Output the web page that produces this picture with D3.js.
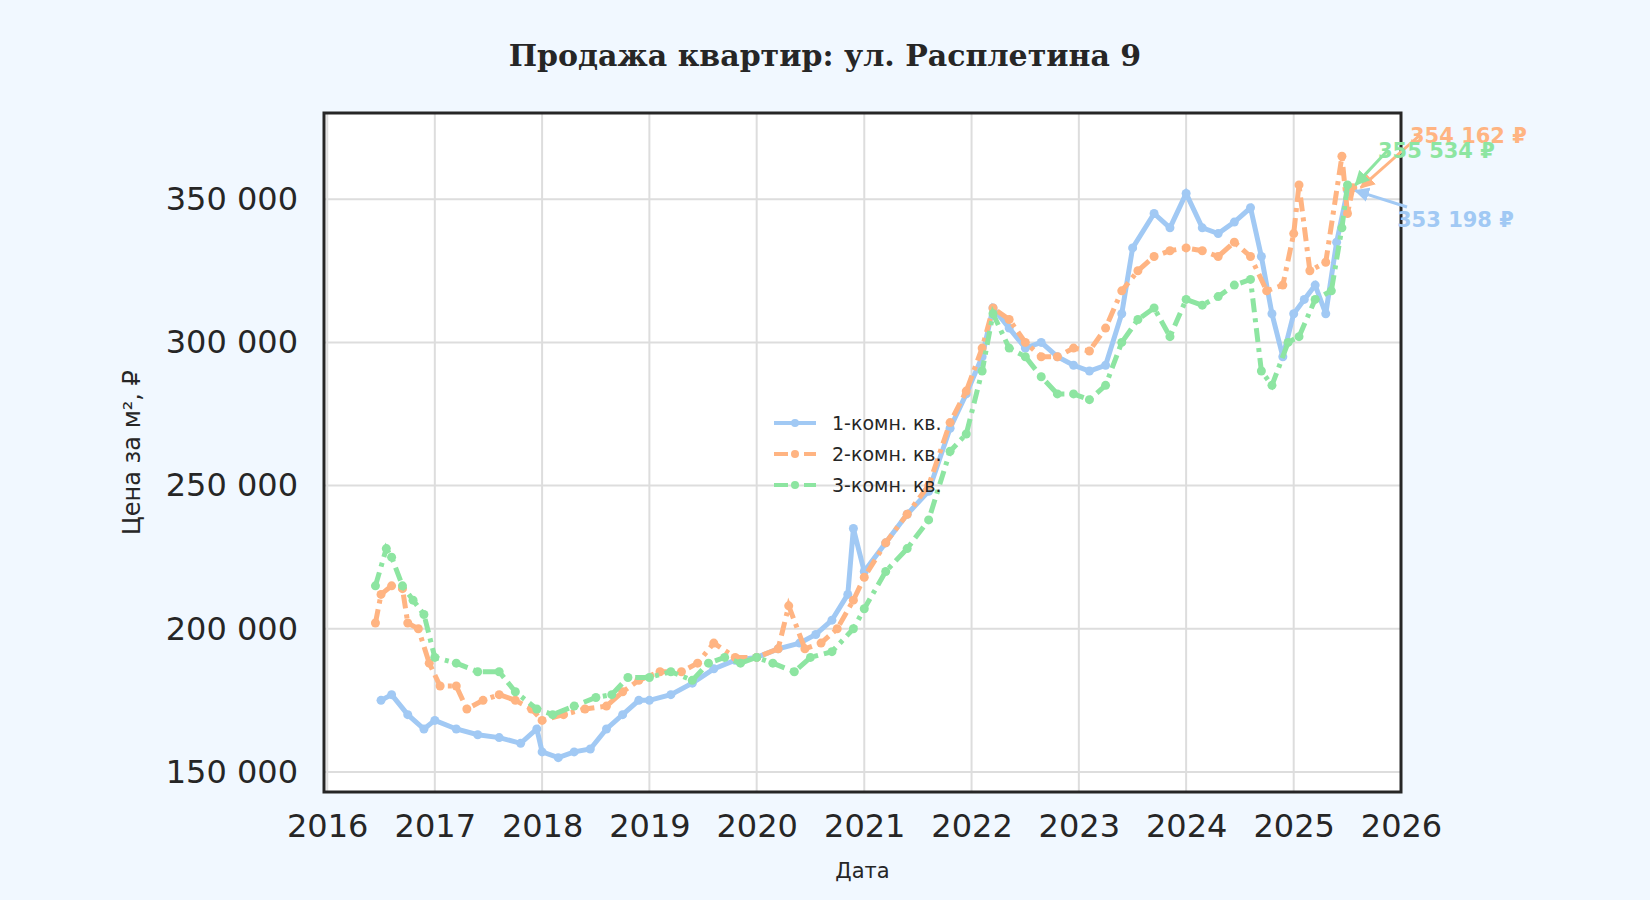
<!DOCTYPE html>
<html><head><meta charset="utf-8">
<script src="https://cdn.jsdelivr.net/npm/d3@7"></script>
<style>body{margin:0;background:#f1f8ff}</style>
</head><body>
<script>
// decimal years + values (thousands of rubles per m²)
t1 = [2016.5,2016.6,2016.75,2016.9,2017.0,2017.2,2017.4,2017.6,2017.8,2017.95,2018.0,2018.15,2018.3,2018.45,2018.6,2018.75,2018.9,2019.0,2019.2,2019.4,2019.6,2019.8,2020.0,2020.2,2020.4,2020.55,2020.7,2020.85,2020.9,2021.0,2021.2,2021.4,2021.6,2021.8,2021.95,2022.1,2022.2,2022.35,2022.5,2022.65,2022.8,2022.95,2023.1,2023.25,2023.4,2023.5,2023.7,2023.85,2024.0,2024.15,2024.3,2024.45,2024.6,2024.7,2024.8,2024.9,2025.0,2025.1,2025.2,2025.3,2025.4,2025.5]
v1 = [175,177,170,165,168,165,163,162,160,165,157,155,157,158,165,170,175,175,177,181,186,189,190,193,195,198,203,212,235,220,230,240,248,270,282,295,312,305,298,300,295,292,290,292,310,333,345,340,352,340,338,342,347,330,310,295,310,315,320,310,335,353]
t2 = [2016.45,2016.5,2016.6,2016.7,2016.75,2016.85,2016.95,2017.05,2017.2,2017.3,2017.45,2017.6,2017.75,2017.9,2018.0,2018.2,2018.4,2018.6,2018.75,2018.9,2019.1,2019.3,2019.45,2019.6,2019.8,2020.0,2020.2,2020.3,2020.45,2020.6,2020.75,2020.9,2021.0,2021.2,2021.4,2021.6,2021.8,2021.95,2022.1,2022.2,2022.35,2022.5,2022.65,2022.8,2022.95,2023.1,2023.25,2023.4,2023.55,2023.7,2023.85,2024.0,2024.15,2024.3,2024.45,2024.6,2024.75,2024.9,2025.0,2025.05,2025.15,2025.3,2025.45,2025.5,2025.55]
v2 = [202,212,215,214,202,200,188,180,180,172,175,177,175,172,168,170,172,173,178,182,185,185,188,195,190,190,193,208,193,195,200,210,218,230,240,250,272,283,298,312,308,300,295,295,298,297,305,318,325,330,332,333,332,330,335,330,318,320,338,355,325,328,365,345,354]
t3 = [2016.45,2016.55,2016.6,2016.7,2016.8,2016.9,2017.0,2017.2,2017.4,2017.6,2017.75,2017.95,2018.1,2018.3,2018.5,2018.65,2018.8,2019.0,2019.2,2019.4,2019.55,2019.7,2019.85,2020.0,2020.15,2020.35,2020.5,2020.7,2020.9,2021.0,2021.2,2021.4,2021.6,2021.8,2021.95,2022.1,2022.2,2022.35,2022.5,2022.65,2022.8,2022.95,2023.1,2023.25,2023.4,2023.55,2023.7,2023.85,2024.0,2024.15,2024.3,2024.45,2024.6,2024.7,2024.8,2024.95,2025.05,2025.2,2025.35,2025.45,2025.5]
v3 = [215,228,225,215,210,205,190,188,185,185,178,172,170,173,176,177,183,183,185,182,188,190,188,190,188,185,190,192,200,207,220,228,238,262,268,290,310,298,295,288,282,282,280,285,300,308,312,302,315,313,316,320,322,290,285,300,302,315,318,340,355]
names = ["1-комн. кв.", "2-комн. кв.", "3-комн. кв."]
lastLabels = ["353 198 ₽", "354 162 ₽", "355 534 ₽"]
colors = ["#a1c9f4", "#ffb482", "#8de5a1"]
yTicks = [150000, 200000, 250000, 300000, 350000]

width = 1650
height = 900
margin = {top: 113, right: 249, bottom: 108, left: 324}

toDate = t => { var y = Math.floor(t); return new Date(y, 0, 1 + Math.round((t - y) * 365)) }
series = [[t1, v1], [t2, v2], [t3, v3]].map(([t, v]) => t.map((d, i) => ({date: toDate(d), value: v[i] * 1000})))

x = d3.scaleTime()
	.domain([toDate(2015.97), new Date(2026, 0, 1)])
	.range([margin.left, width - margin.right])
y = d3.scaleLinear()
	.domain([143000, 380100])
	.range([height - margin.bottom, margin.top])

var svg = d3.select("body").append("svg")
	.attr("width", width).attr("height", height)
	.style("font-family", "DejaVu Sans")

svg.append("rect")
	.attr("x", margin.left).attr("y", margin.top)
	.attr("width", width - margin.left - margin.right)
	.attr("height", height - margin.top - margin.bottom)
	.attr("fill", "#fff")

// grid
var xTicks = d3.range(2016, 2027).map(yr => new Date(yr, 0, 1))
svg.append("g").selectAll("line").data(xTicks).join("line")
	.attr("x1", d => x(d)).attr("x2", d => x(d))
	.attr("y1", margin.top).attr("y2", height - margin.bottom)
	.attr("stroke", "#dddddd").attr("stroke-width", 2)
svg.append("g").selectAll("line").data(yTicks).join("line")
	.attr("x1", margin.left).attr("x2", width - margin.right)
	.attr("y1", d => y(d)).attr("y2", d => y(d))
	.attr("stroke", "#dddddd").attr("stroke-width", 2)

// series
var line = d3.line().x(d => x(d.date)).y(d => y(d.value))
var dashes = [null, "14,6,4,6", "14,6,4,6"]
series.forEach((s, i) => {
	svg.append("path").datum(s)
		.attr("fill", "none").attr("stroke", colors[i])
		.attr("stroke-width", 5).attr("stroke-dasharray", dashes[i])
		.attr("d", line)
	svg.append("g").selectAll("circle").data(s).join("circle")
		.attr("cx", d => x(d.date)).attr("cy", d => y(d.value))
		.attr("r", 4.5).attr("fill", colors[i])
})

// frame
svg.append("rect")
	.attr("x", margin.left).attr("y", margin.top)
	.attr("width", width - margin.left - margin.right)
	.attr("height", height - margin.top - margin.bottom)
	.attr("fill", "none").attr("stroke", "#262626").attr("stroke-width", 3)

// axes
var gx = svg.append("g")
	.attr("transform", "translate(0," + (height - margin.bottom) + ")")
	.call(d3.axisBottom(x).tickValues(xTicks).tickFormat(d3.timeFormat("%Y")).tickSize(0).tickPadding(22))
var gy = svg.append("g")
	.attr("transform", "translate(" + margin.left + ",0)")
	.call(d3.axisLeft(y).tickValues(yTicks).tickFormat(d => d3.format(",")(d).replace(",", " ")).tickSize(0).tickPadding(26))
;[gx, gy].forEach(g => {
	g.select(".domain").remove()
	g.selectAll("text").attr("font-size", 32).attr("fill", "#262626").attr("font-family", "DejaVu Sans")
})

svg.append("text").attr("x", (margin.left + width - margin.right) / 2).attr("y", 878)
	.attr("text-anchor", "middle").attr("font-size", 21).attr("fill", "#262626").text("Дата")
svg.append("text").attr("transform", "translate(140," + ((margin.top + height - margin.bottom) / 2) + ") rotate(-90)")
	.attr("text-anchor", "middle").attr("font-size", 24).attr("fill", "#262626").text("Цена за м², ₽")
svg.append("text").attr("x", 825).attr("y", 66)
	.attr("text-anchor", "middle").attr("font-size", 30).attr("font-weight", "bold")
	.attr("font-family", "DejaVu Serif").attr("fill", "#262626").text("Продажа квартир: ул. Расплетина 9")

// last value annotations
var labelPos = [[1397, 227], [1410, 143], [1378, 158]]
var defs = svg.append("defs")
colors.forEach((c, i) => {
	defs.append("marker").attr("id", "ah" + i).attr("viewBox", "0 0 10 10")
		.attr("refX", 9).attr("refY", 5).attr("markerWidth", 5).attr("markerHeight", 5).attr("orient", "auto")
		.append("path").attr("d", "M0,0L10,5L0,10z").attr("fill", c)
	var last = series[i][series[i].length - 1]
	svg.append("line")
		.attr("x1", labelPos[i][0] + 10).attr("y1", labelPos[i][1] - 14 + (i == 0 ? -6 : 6))
		.attr("x2", x(last.date) + 8).attr("y2", y(last.value))
		.attr("stroke", c).attr("stroke-width", 3).attr("marker-end", "url(#ah" + i + ")")
	svg.append("text").attr("x", labelPos[i][0]).attr("y", labelPos[i][1])
		.attr("font-size", 21).attr("font-weight", "bold").attr("fill", c).text(lastLabels[i])
})

// legend
var legend = svg.append("g").attr("transform", "translate(774,423)")
names.forEach((n, i) => {
	var g = legend.append("g").attr("transform", "translate(0," + (i * 31) + ")")
	g.append("line").attr("x1", 0).attr("x2", 42).attr("stroke", colors[i]).attr("stroke-width", 4)
		.attr("stroke-dasharray", dashes[i])
	g.append("circle").attr("cx", 21).attr("r", 4).attr("fill", colors[i])
	g.append("text").attr("x", 58).attr("y", 7).attr("font-size", 19).attr("fill", "#262626").text(n)
})
</script>
</body></html>
